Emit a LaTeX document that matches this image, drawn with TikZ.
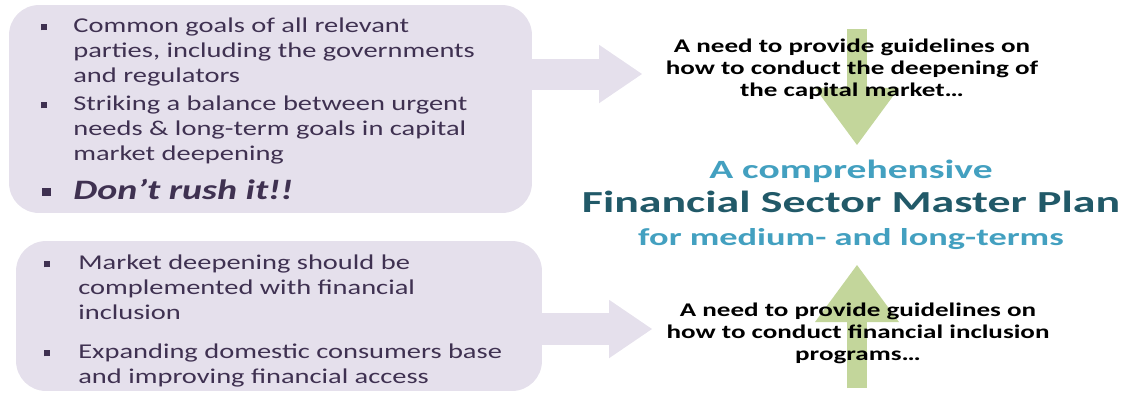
\documentclass[tikz,border=0pt]{standalone}
\usepackage{fontspec}
\setmainfont{Carlito}
\newfontfamily\boxfont{Carlito}[FakeStretch=1.35]
\newfontfamily\needfont{Carlito}[FakeStretch=1.4]
\newfontfamily\planfont{Carlito}[FakeStretch=1.5]
\usetikzlibrary{arrows.meta}
\usetikzlibrary{backgrounds}
\definecolor{lavender}{HTML}{E5E0EC}
\definecolor{sage}{HTML}{C3D69B}
\definecolor{plum}{HTML}{3F3151}
\definecolor{plandark}{HTML}{215968}
\definecolor{planlight}{HTML}{43A0C0}
\newcommand{\sqbullet}[2]{\leavevmode\llap{\rule[0.13em]{#1}{#1}\hspace{#2}}}

\begin{document}
\begin{tikzpicture}[x=0.02cm,y=-0.02cm]
	\useasboundingbox (0,0) rectangle (1126,393);
	\begin{scope}[every node/.style={fill=lavender,rounded corners=0.6cm,inner sep=0pt}]
		\node[minimum width=10.46cm,minimum height=4.16cm] (goals) at (270.5,109) {};
		\node[minimum width=10.52cm,minimum height=3cm] (incl) at (279,316) {};
	\end{scope}

	\begin{scope}[every node/.style={anchor=north west,inner sep=0pt,align=left,text=plum,
	              font=\boxfont\fontsize{12}{14.2}\selectfont}]
		\node (g1) at (73,18) {\sqbullet{3.4pt}{15pt}Common goals of all relevant\\parties, including the governments\\and regulators};
		\node (g2) at (73,96) {\sqbullet{3.4pt}{15pt}Striking a balance between urgent\\needs \& long-term goals in capital\\market deepening};
		\node[font=\boxfont\fontsize{16}{18}\selectfont\bfseries\itshape] (g3) at (73,179) {\sqbullet{4.6pt}{13pt}Don’t rush it!!};
		\node (i1) at (78,255) {\sqbullet{3.4pt}{16pt}Market deepening should be\\complemented with financial\\inclusion};
		\node (i2) at (78,344) {\sqbullet{3.4pt}{16pt}Expanding domestic consumers base\\and improving financial access};
	\end{scope}

	\begin{scope}[every node/.style={inner sep=0pt,align=center,text=black,
	              font=\needfont\fontsize{11}{12.5}\selectfont\bfseries}]
		\node (need1) at (852,69) {A need to provide guidelines on\\how to conduct the deepening of\\the capital market\dots};
		\node (need2) at (858,333) {A need to provide guidelines on\\how to conduct financial inclusion\\programs\dots};
		\node[font=\planfont\fontsize{17.4}{19}\selectfont\bfseries] (plan) at (851,205)
			{{\fontsize{15}{19}\selectfont\color{planlight}A comprehensive}\\
			 \textcolor{plandark}{Financial Sector Master Plan}\\
			 {\fontsize{13.8}{19}\selectfont\color{planlight}for medium- and long-terms}};
	\end{scope}

	\begin{scope}[on background layer,>={Triangle[width=1.17cm,length=0.86cm,line width=0pt]}]
		\coordinate (t1) at (642,74);
		\coordinate (t2) at (652,329);
		\draw[->,lavender,line width=0.62cm] (goals.east |- t1) -- (t1);
		\draw[->,lavender,line width=0.64cm] (incl.east |- t2) -- (t2);
	\end{scope}

	\begin{scope}[on background layer,>={Triangle[width=1.68cm,length=1.14cm,line width=0pt]}]
		\coordinate (d0) at (857,29);
		\coordinate (u0) at (857,388);
		\draw[->,sage,line width=0.4cm,shorten >=0.3cm] (d0) -- (d0 |- plan.north);
		\draw[->,sage,line width=0.4cm,shorten >=0.3cm] (u0) -- (u0 |- plan.south);
	\end{scope}
\end{tikzpicture}
\end{document}
